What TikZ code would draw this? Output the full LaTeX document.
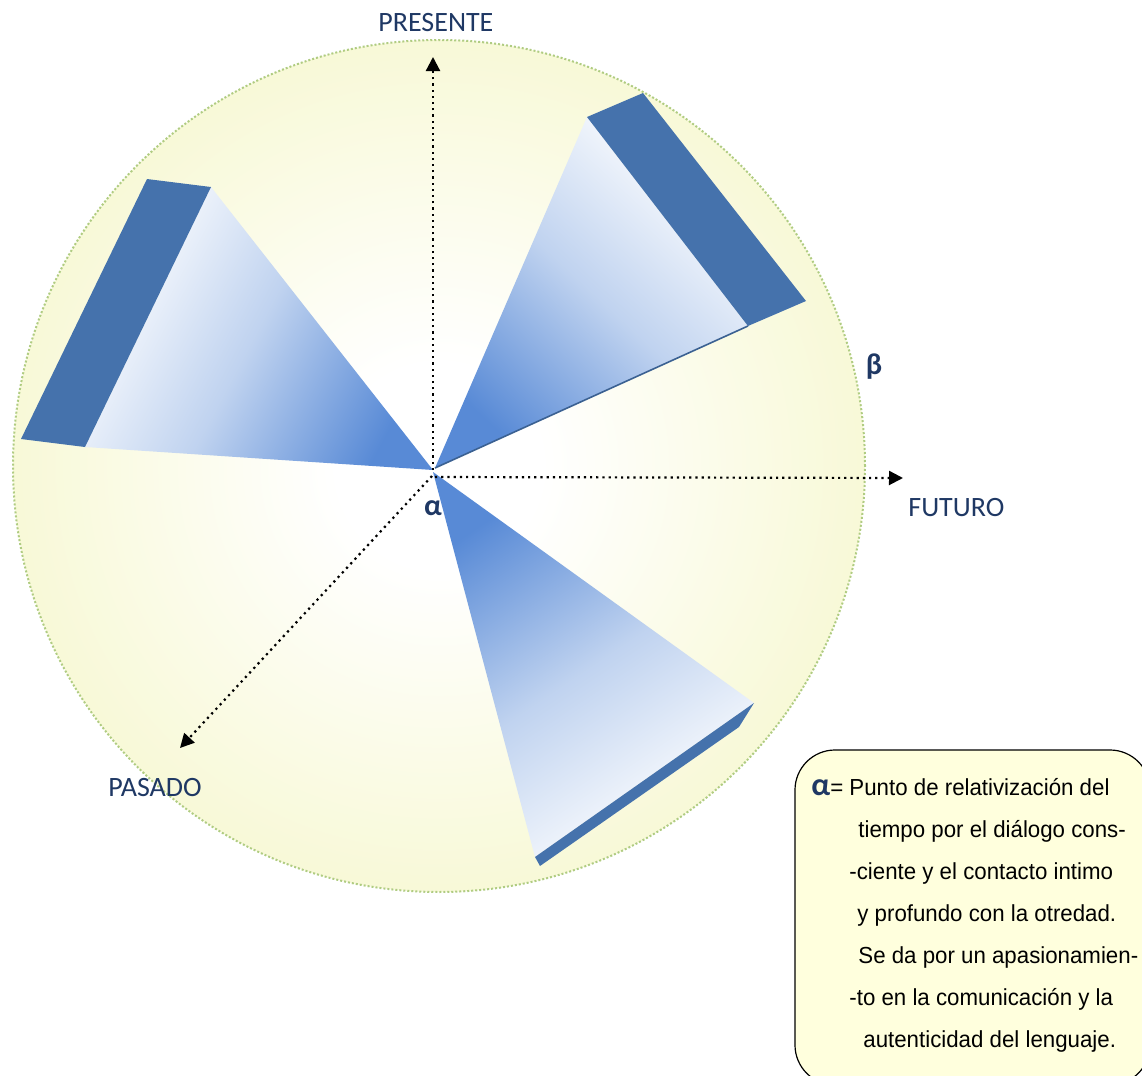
\documentclass[tikz,border=0pt]{standalone}
\usepackage{fontspec}
\setmainfont{Carlito}
\newfontfamily\notefont{Liberation Sans}[FakeStretch=0.96]
\usetikzlibrary{arrows.meta,positioning,calc}
\definecolor{darktext}{RGB}{31,56,100}
\definecolor{barblue}{RGB}{69,114,172}
\definecolor{fanblue}{RGB}{88,138,214}
\definecolor{paleyellow}{RGB}{246,247,205}
\definecolor{rimgreen}{RGB}{176,204,130}
\definecolor{noteyellow}{RGB}{255,255,221}
\pgfdeclareradialshading{glow}{\pgfpoint{0bp}{0bp}}{color(0bp)=(white); color(6bp)=(white); color(30bp)=(paleyellow); color(50bp)=(paleyellow)}

\tikzset{
  timeaxis/.style={line width=1.1pt, dash pattern=on 1.1pt off 2pt, -{Triangle[length=7pt,width=7pt]}},
  axislabel/.style={anchor=base west, text=darktext, inner sep=0pt, font=\fontsize{14}{16}\selectfont},
  greek/.style={text=darktext, inner sep=0pt, font=\fontsize{15}{17}\selectfont\bfseries},
  fan/.style={top color=white, bottom color=fanblue, middle color=fanblue!38!white},
  bar/.style={fill=barblue},
  noteline/.style={anchor=base west, inner sep=0pt, font=\notefont\fontsize{11.6}{13}\selectfont}
}

\begin{document}
\begin{tikzpicture}[x=0.5pt, y=0.5pt]
  \useasboundingbox (0,0) rectangle (1142,-1076);

  % Time circle
  \shade[shading=glow] (439,-466) circle[radius=426];
  \draw[rimgreen, line width=1pt, dash pattern=on 1pt off 1pt] (439,-466) circle[radius=426];

  % Blades
  \shade[fan, shading angle=62] (433,-470) -- (211,-187) -- (85,-447) -- cycle;
  \fill[bar] (147,-179) -- (211,-187) -- (85,-447) -- (21,-439) -- cycle;

  \shade[fan, shading angle=-43] (435,-468) -- (587,-117) -- (748,-326) -- cycle;
  \fill[bar] (587,-117) -- (643,-93) -- (806,-301) -- (748,-326) -- cycle;
  \draw[barblue!85!black, line width=0.8pt] (435,-468) -- (748,-326);

  \shade[fan, shading angle=-146] (433,-472) -- (754,-703) -- (535,-857) -- cycle;
  \fill[bar] (535,-857) -- (754,-703) -- (739,-727) -- (540,-866) -- cycle;

  % Axes
  \coordinate (origin) at (433,-470);
  \coordinate (originr) at (435,-477);
  \coordinate (originl) at (432,-476);
  \coordinate (toppoint) at (433,-57);
  \coordinate (rightpoint) at (903,-478);
  \coordinate (leftpoint) at (180,-748);
  \draw[timeaxis] (origin) -- (toppoint);
  \draw[timeaxis] (originr) -- (rightpoint);
  \draw[timeaxis] (originl) -- (leftpoint);

  % Labels
  \node[axislabel] (presente) at (378,-32) {PRESENTE};
  \node[axislabel] (futuro) at (908,-516) {FUTURO};
  \node[axislabel] (pasado) at (108,-796) {PASADO};
  \node[greek] (alpha) at (433,-508) {α};
  \node[greek] (beta) at (874,-367) {β};

  % Note
  \draw[fill=noteyellow, rounded corners=20pt, line width=0.6pt] (795,-750) rectangle (1150,-1085);
  \node[noteline] (note1) at (811,-795) {{\rmfamily\fontsize{16}{17}\selectfont\bfseries\color{darktext}α}= Punto de relativización del};
  \node[noteline] (note2) at (858,-837) {tiempo por el diálogo cons-};
  \node[noteline] (note3) at (849,-879) {-ciente y el contacto intimo};
  \node[noteline] (note4) at (857,-921) {y profundo con la otredad.};
  \node[noteline] (note5) at (858,-963) {Se da por un apasionamien-};
  \node[noteline] (note6) at (849,-1005) {-to en la comunicación y la};
  \node[noteline] (note7) at (863,-1047) {autenticidad del lenguaje.};
\end{tikzpicture}
\end{document}
